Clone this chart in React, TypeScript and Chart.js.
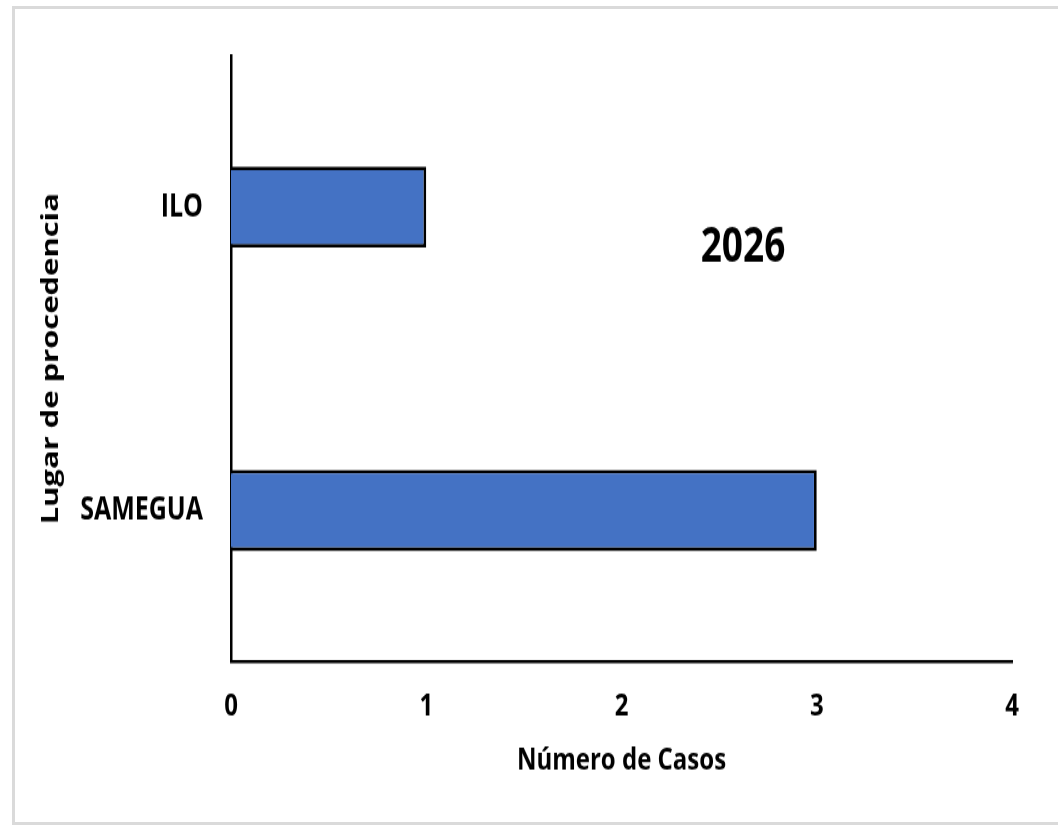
import React, { useEffect, useRef } from "react";
import { Chart, registerables } from "chart.js";

Chart.register(...registerables);

const categories: string[] = ["ILO", "SAMEGUA"];
const casos: number[] = [1, 3];
const xTicks: number[] = [0, 1, 2, 3, 4];
const yearLabel = "2026";
const xTitle = "Número de Casos";
const yTitle = "Lugar de procedencia";

const W = 1058;
const H = 825;
const STRETCH = 1.289;
const CH = Math.round(H / STRETCH); // logical canvas height (picture is vertically stretched)

const FONT = '"Open Sans", "Liberation Sans", sans-serif';

const yearPlugin = {
  id: "yearLabel",
  afterDraw(chart: any) {
    const { ctx, chartArea } = chart;
    ctx.save();
    ctx.font = `bold 37px ${FONT}`;
    ctx.fillStyle = "#000";
    ctx.textAlign = "center";
    ctx.textBaseline = "middle";
    const x = chartArea.left + (chartArea.right - chartArea.left) * 0.6556;
    const y = chartArea.top + (chartArea.bottom - chartArea.top) * 0.318;
    ctx.fillText(yearLabel, x, y);
    ctx.restore();
  },
};

export default function App() {
  const ref = useRef<HTMLCanvasElement | null>(null);

  useEffect(() => {
    if (!ref.current) return;
    const plotTop = 55 / STRETCH;
    const plotBottom = 662 / STRETCH;
    const chart = new Chart(ref.current, {
      type: "bar",
      data: {
        labels: categories,
        datasets: [
          {
            label: yearLabel,
            data: casos,
            backgroundColor: "#4472C4",
            borderColor: "#000000",
            borderWidth: 2.8,
            categoryPercentage: 0.5,
            barPercentage: 0.535,
          },
        ],
      },
      plugins: [yearPlugin],
      options: {
        indexAxis: "y",
        animation: false,
        responsive: false,
        devicePixelRatio: 1,
        layout: {
          padding: { top: plotTop, right: W - 1012, bottom: 0, left: 0 },
        },
        plugins: {
          legend: { display: false },
          tooltip: { enabled: false },
          title: { display: false },
        },
        scales: {
          x: {
            type: "linear",
            min: 0,
            max: 4,
            afterBuildTicks: (scale: any) => {
              scale.ticks = xTicks.map((v) => ({ value: v }));
            },
            afterFit: (scale: any) => {
              scale.height = CH - plotBottom;
            },
            grid: { display: false, drawTicks: false },
            border: { display: true, color: "#000", width: 2.4 },
            ticks: {
              color: "#000",
              padding: 20,
              font: { family: FONT, size: 24, weight: "bold" },
            },
            title: {
              display: true,
              text: xTitle,
              color: "#000",
              padding: { top: 0, bottom: 35 },
              font: { family: FONT, size: 24, weight: "bold" },
            },
          },
          y: {
            type: "category",
            afterFit: (scale: any) => {
              scale.width = 231;
            },
            grid: { display: false, drawTicks: false },
            border: { display: true, color: "#000", width: 2.5 },
            ticks: {
              color: "#000",
              padding: 28,
              font: { family: FONT, size: 25, weight: "bold" },
            },
            title: {
              display: true,
              text: yTitle,
              color: "#000",
              padding: { top: 37, bottom: 0 },
              font: { family: FONT, size: 24, weight: "bold" },
            },
          },
        },
      },
    });
    return () => chart.destroy();
  }, []);

  return (
    <div
      style={{
        position: "absolute",
        left: 0,
        top: 0,
        width: W,
        height: H,
        background: "#ffffff",
        overflow: "hidden",
      }}
    >
      <div
        style={{
          position: "absolute",
          left: 12,
          top: 6,
          width: W - 12 - 3,
          height: H - 6 - 6,
          borderTop: "3px solid #dadada",
          borderLeft: "3px solid #dadada",
          borderBottom: "3px solid #dadada",
        }}
      />
      <canvas
        ref={ref}
        width={W}
        height={CH}
        style={{
          position: "absolute",
          left: 0,
          top: 0,
          width: W + "px",
          height: H + "px",
          display: "block",
        }}
      />
    </div>
  );
}
